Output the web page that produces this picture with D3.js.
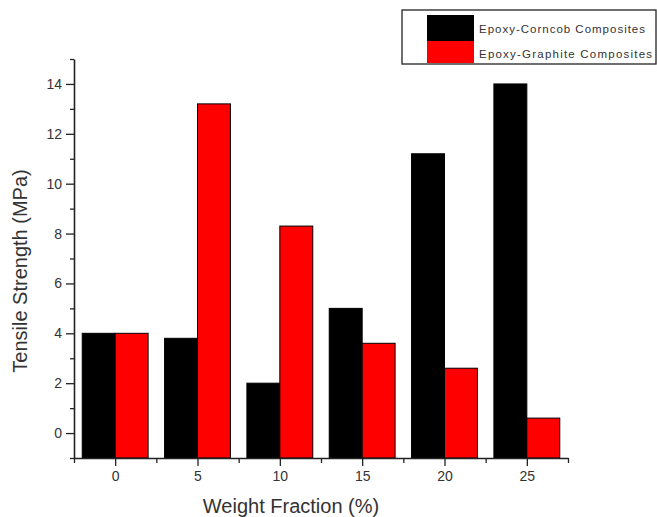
<!DOCTYPE html>
<html>
<head>
<meta charset="utf-8">
<script src="https://cdn.jsdelivr.net/npm/d3@7"></script>
<style>
  body { margin: 0; background: #fff; }
  svg { font-family: "Liberation Sans", Arial, sans-serif; }
  .axis path, .axis line { stroke: #222; }
  .axis text { fill: #333; font-size: 14px; }
</style>
</head>
<body>
<div id="chart"></div>
<script>
// weight fraction (%) and tensile strength (MPa)
var fractions = [0, 5, 10, 15, 20, 25];
var corncob = [4.0, 3.8, 2.0, 5.0, 11.2, 14.0];
var graphite = [4.0, 13.2, 8.3, 3.6, 2.6, 0.6];
var seriesNames = ["Epoxy-Corncob Composites", "Epoxy-Graphite Composites"];
var seriesColors = ["#000000", "#ff0000"];
var yTicks = [0, 2, 4, 6, 8, 10, 12, 14];
var yMinor = [-1, 1, 3, 5, 7, 9, 11, 13, 15];
var xTicks = [0, 5, 10, 15, 20, 25];
var xMinor = [-2.5, 2.5, 7.5, 12.5, 17.5, 22.5, 27.5];

drawChart();

function drawChart() {
  var width = 657, height = 517;
  var plotLeft = 74, plotRight = 568, plotTop = 59, plotBottom = 458;
  var barW = 2;

  var svg = d3.select("#chart").append("svg")
    .attr("width", width)
    .attr("height", height);

  var x = d3.scaleLinear().domain([-2.5, 27.5]).range([plotLeft, plotRight]);
  var y = d3.scaleLinear().domain([-1, 15]).range([plotBottom, plotTop]);

  // bars
  var series = [corncob, graphite];
  series.forEach(function(vals, s) {
    svg.append("g").selectAll("rect")
      .data(fractions)
      .enter().append("rect")
        .attr("x", function(d) { return s == 0 ? x(d - barW) : x(d); })
        .attr("width", x(barW) - x(0))
        .attr("y", function(d, i) { return y(vals[i]); })
        .attr("height", function(d, i) { return y(-1) - y(vals[i]); })
        .style("fill", seriesColors[s])
        .style("stroke", "#000")
        .style("stroke-width", 1);
  });

  // x axis
  svg.append("g")
    .attr("class", "axis")
    .attr("transform", "translate(0," + plotBottom + ")")
    .call(d3.axisBottom(x).tickValues(xMinor).tickSize(5).tickFormat("").tickSizeOuter(0))
    .call(function(g) { g.select(".domain").style("stroke-width", 1.6); g.selectAll("line").style("stroke-width", 1.3); });
  svg.append("g")
    .attr("class", "axis")
    .attr("transform", "translate(0," + plotBottom + ")")
    .call(d3.axisBottom(x).tickValues(xTicks).tickSize(8).tickPadding(5).tickSizeOuter(0))
    .call(function(g) { g.select(".domain").remove(); g.selectAll("line").style("stroke-width", 1.3); });

  // y axis
  svg.append("g")
    .attr("class", "axis")
    .attr("transform", "translate(" + plotLeft + ",0)")
    .call(d3.axisLeft(y).tickValues(yMinor).tickSize(4).tickFormat("").tickSizeOuter(0))
    .call(function(g) { g.select(".domain").style("stroke-width", 1.6); g.selectAll("line").style("stroke-width", 1.3); });
  svg.append("g")
    .attr("class", "axis")
    .attr("transform", "translate(" + plotLeft + ",0)")
    .call(d3.axisLeft(y).tickValues(yTicks).tickSize(8).tickPadding(4).tickSizeOuter(0))
    .call(function(g) { g.select(".domain").remove(); g.selectAll("line").style("stroke-width", 1.3); });

  // axis titles
  svg.append("text")
    .attr("transform", "translate(291,513)")
    .style("text-anchor", "middle")
    .style("font-size", "20px")
    .style("fill", "#333")
    .text("Weight Fraction (%)");

  svg.append("text")
    .attr("transform", "translate(27,271) rotate(-90)")
    .style("text-anchor", "middle")
    .style("font-size", "20px")
    .style("fill", "#333")
    .text("Tensile Strength (MPa)");

  // legend
  var legend = svg.append("g");
  legend.append("rect")
    .attr("x", 402).attr("y", 10)
    .attr("width", 254).attr("height", 54)
    .style("fill", "#fff").style("stroke", "#222").style("stroke-width", 1.3);

  seriesNames.forEach(function(name, i) {
    legend.append("rect")
      .attr("x", 427).attr("y", 15 + i * 26)
      .attr("width", 47).attr("height", i == 0 ? 27 : 22)
      .style("fill", seriesColors[i]);
    legend.append("text")
      .attr("x", 479).attr("y", 33 + i * 25)
      .attr("textLength", i == 0 ? 166 : 173)
      .style("font-size", "11.5px")
      .style("fill", "#333")
      .text(name);
  });
}
</script>
</body>
</html>
